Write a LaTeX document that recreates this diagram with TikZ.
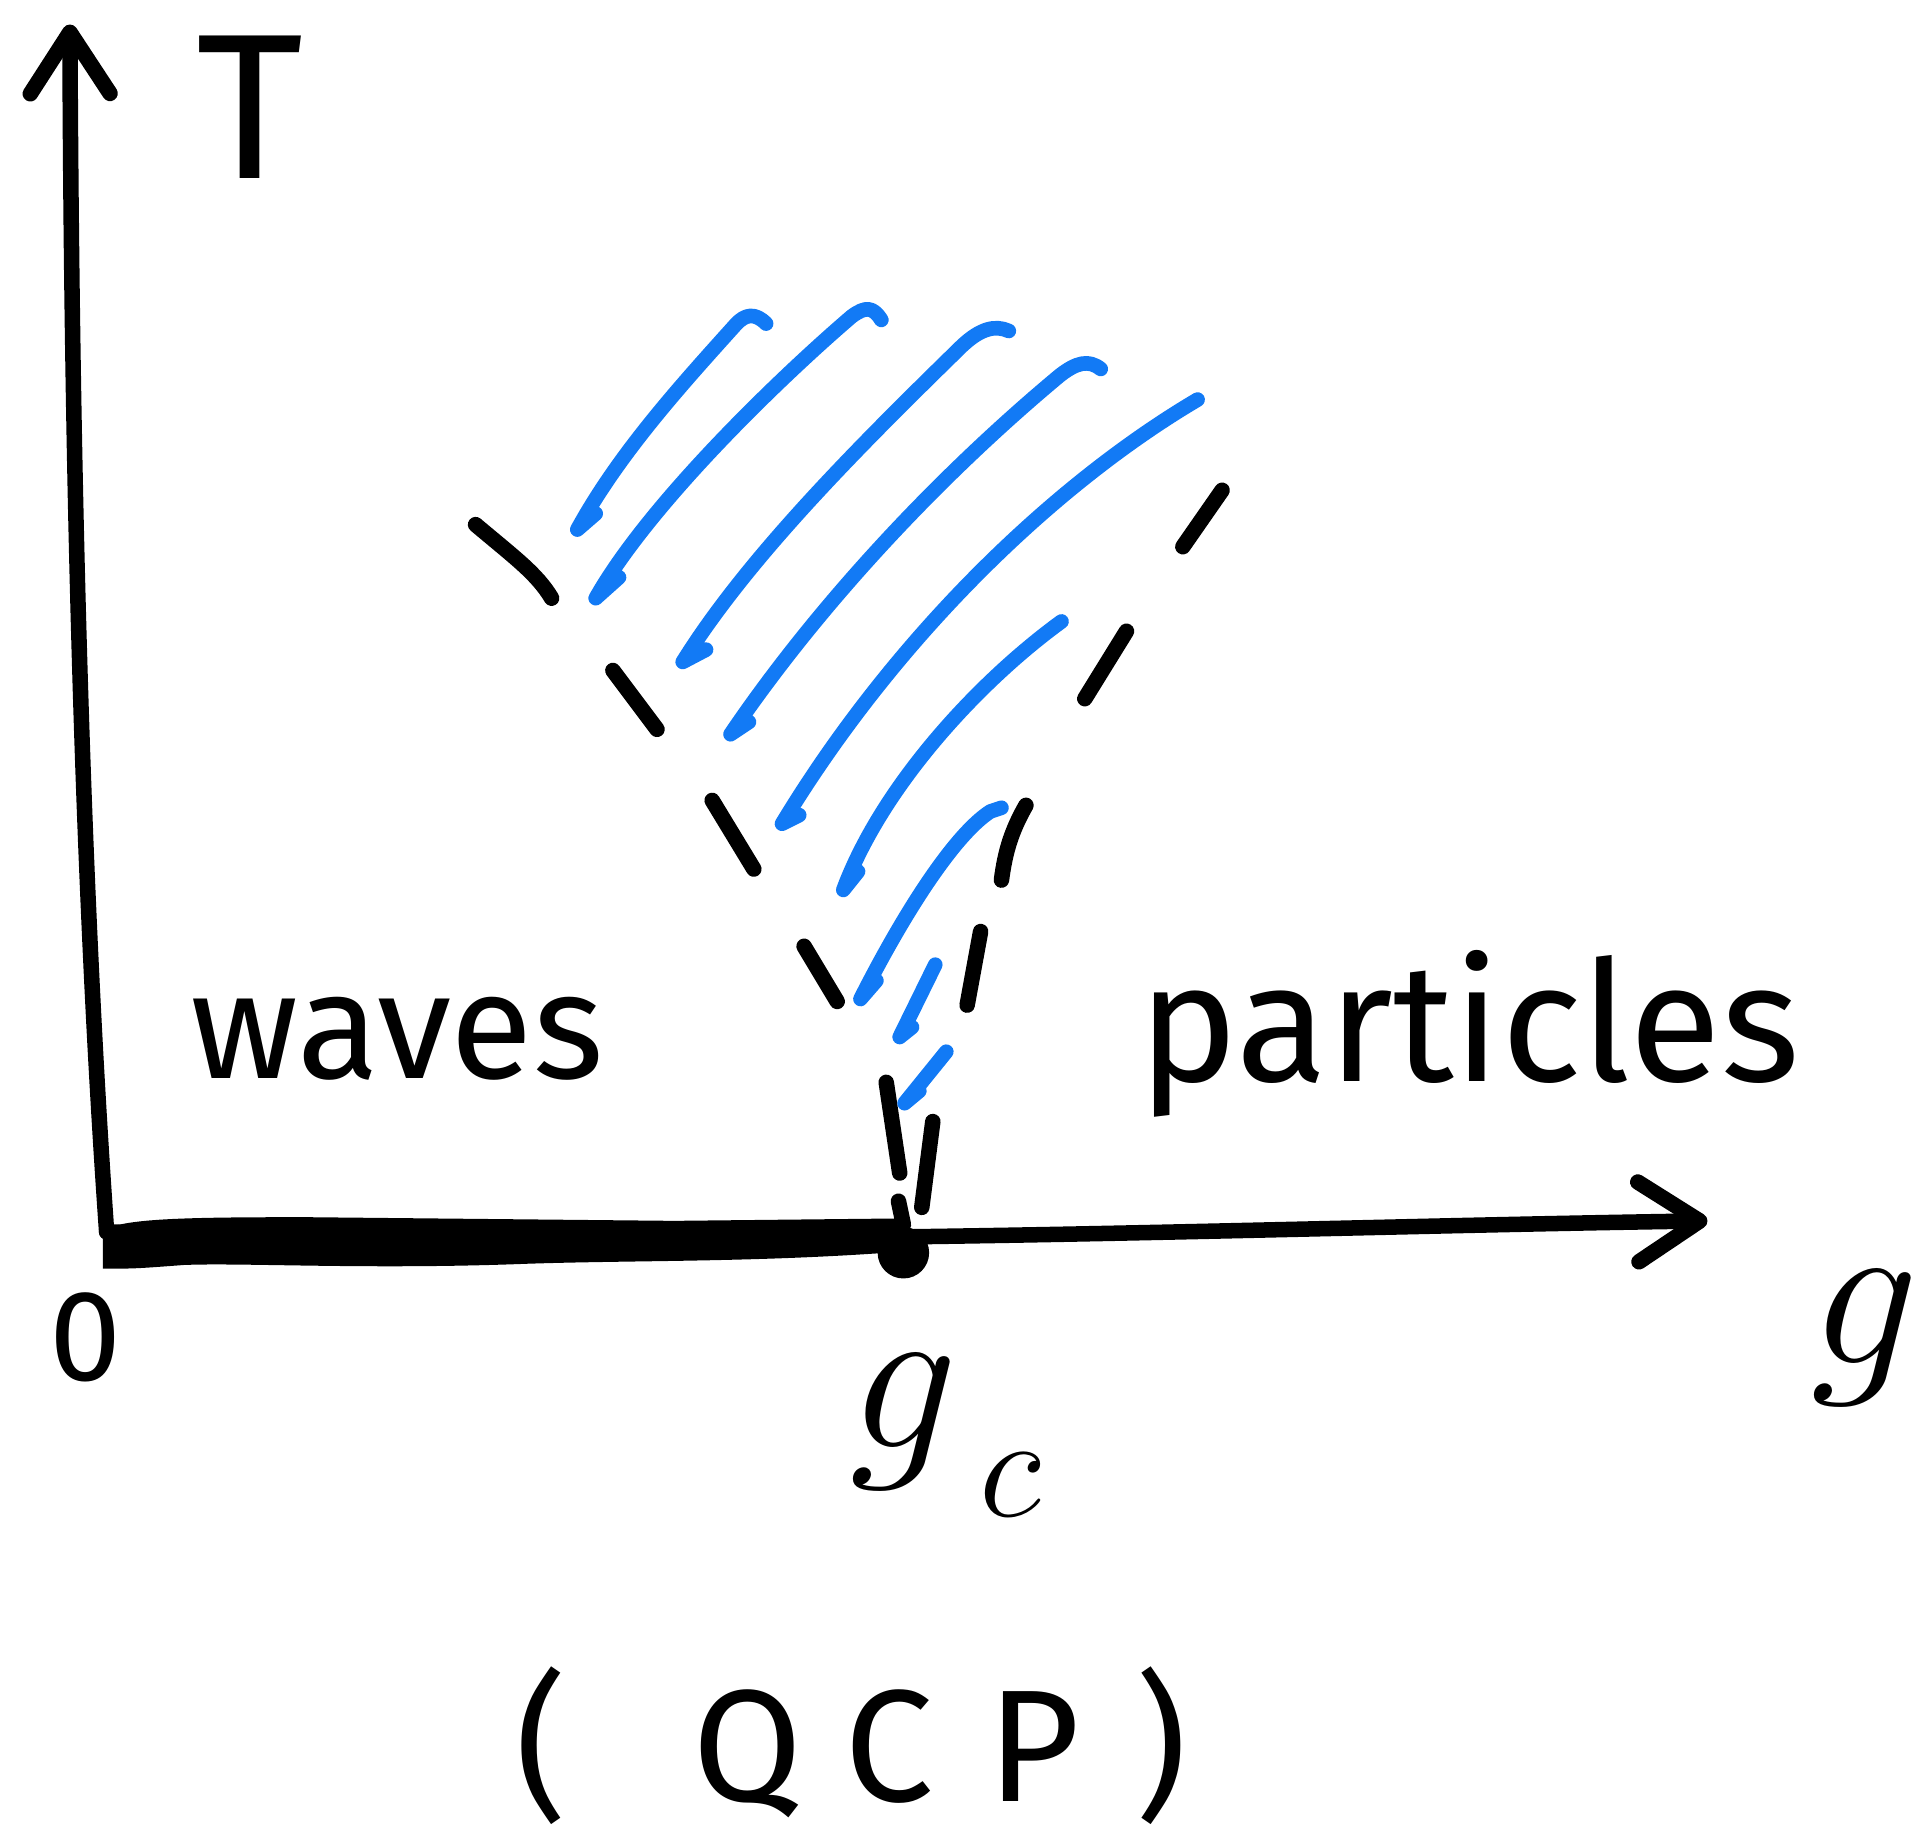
\RequirePackage{fix-cm}
\documentclass[tikz,border=0pt]{standalone}
\usepackage{fontspec}
\setmainfont{Fira Sans}
\usetikzlibrary{arrows.meta}
\definecolor{penblue}{RGB}{18, 122, 245}
\tikzset{
  penstroke/.style={line width=3.6pt, line cap=round, line join=round},
  axisline/.style={penstroke, -{Straight Barb[length=5mm, width=6.5mm, line width=3.6pt, round]}},
  fanedge/.style={penstroke, black},
  hatch/.style={penstroke, penblue, line width=3.4pt}
}

\begin{document}
\begin{tikzpicture}[x=0.01cm, y=-0.01cm,
    handlabel/.style={inner sep=0pt, anchor=base west, text=black}]
  \useasboundingbox (0,0) rectangle (1568,1497);

  % Key points
  \coordinate (O) at (87,1005);
  \coordinate (Ttop) at (57,20);
  \coordinate (gtip) at (1393,996);

  % Axes
  \draw[axisline] (O) .. controls (62,650) and (58,250) .. (Ttop);
  \draw[axisline] (O) .. controls (600,1020) and (1000,1002) .. (gtip);

  % Thick segment up to the critical point
  \fill (84,1004) .. controls (100,994) and (150,993) .. (250,993) -- (550,996) -- (737,994)
    -- (737,1021) .. controls (620,1030) and (520,1028) .. (430,1031)
    .. controls (300,1036) and (200,1030) .. (150,1032) .. controls (110,1035) .. (84,1035) -- cycle;
  \node[circle, fill, inner sep=0pt, minimum size=0.42cm] (gcdot) at (737,1022) {};

  % Left edge of the fan
  \draw[fanedge] (388,428) .. controls (420,455) and (438,468) .. (450,488);
  \draw[fanedge] (500,547) -- (536,595);
  \draw[fanedge] (581,653) -- (615,709);
  \draw[fanedge] (656,772) -- (683,817);
  \draw[fanedge] (723,883) -- (734,957);
  \draw[fanedge] (733,980) -- (737,999);

  % Right edge of the fan
  \draw[fanedge] (997,400) -- (965,446);
  \draw[fanedge] (919,515) -- (885,570);
  \draw[fanedge] (837,657) .. controls (825,678) and (820,695) .. (817,718);
  \draw[fanedge] (800,760) -- (789,820);
  \draw[fanedge] (761,915) -- (752,985);

  % Hatching inside the fan
  \draw[hatch] (625,264) .. controls (616,255) and (608,256) .. (600,265)
    .. controls (555,315) and (505,370) .. (471,432) -- (486,419);
  \draw[hatch] (719,261) .. controls (712,250) and (706,250) .. (695,258)
    .. controls (640,305) and (530,410) .. (486,488) -- (505,471);
  \draw[hatch] (823,270) .. controls (812,265) and (800,268) .. (785,282)
    .. controls (700,365) and (610,455) .. (557,540) -- (576,530);
  \draw[hatch] (898,301) .. controls (888,293) and (878,296) .. (865,306)
    .. controls (770,385) and (670,490) .. (596,599) -- (611,589);
  \draw[hatch] (977,326) .. controls (860,395) and (730,520) .. (638,672) -- (652,665);
  \draw[hatch] (866,507) .. controls (800,555) and (720,640) .. (688,726) -- (700,711);
  \draw[hatch] (817,659) -- (808,662) .. controls (780,680) and (740,740) .. (702,815) -- (715,800);
  \draw[hatch] (763,787) -- (734,846) -- (744,838);
  \draw[hatch] (772,858) -- (738,900) -- (750,890);

  % Labels
  \node[handlabel, font=\fontsize{48}{52}\selectfont] (Tlabel) at (160,146) {T};
  \node[handlabel, font=\fontsize{30}{34}\selectfont] (zero) at (40,1126) {0};
  \node[handlabel, font=\fontsize{50}{54}\selectfont] (glabel) at (1476,1112) {\(g\)};
  \node[handlabel, font=\fontsize{50}{54}\selectfont] (gclabel) at (692,1181)
    {\(g\)\kern0.18cm\raisebox{-0.56cm}{\fontsize{34}{38}\selectfont\(c\)}};
  \node[handlabel, font=\fontsize{35}{40}\selectfont] (waves) at (155,880) {waves};
  \node[handlabel, font=\fontsize{39}{44}\selectfont] (particles) at (928,882) {particles};
  \node[handlabel, font=\fontsize{37}{42}\selectfont] (qcp) at (420,1470)
    {(\hspace{1.02cm}Q\hspace{0.34cm}C\hspace{0.44cm}P\hspace{0.45cm})};
\end{tikzpicture}
\end{document}
